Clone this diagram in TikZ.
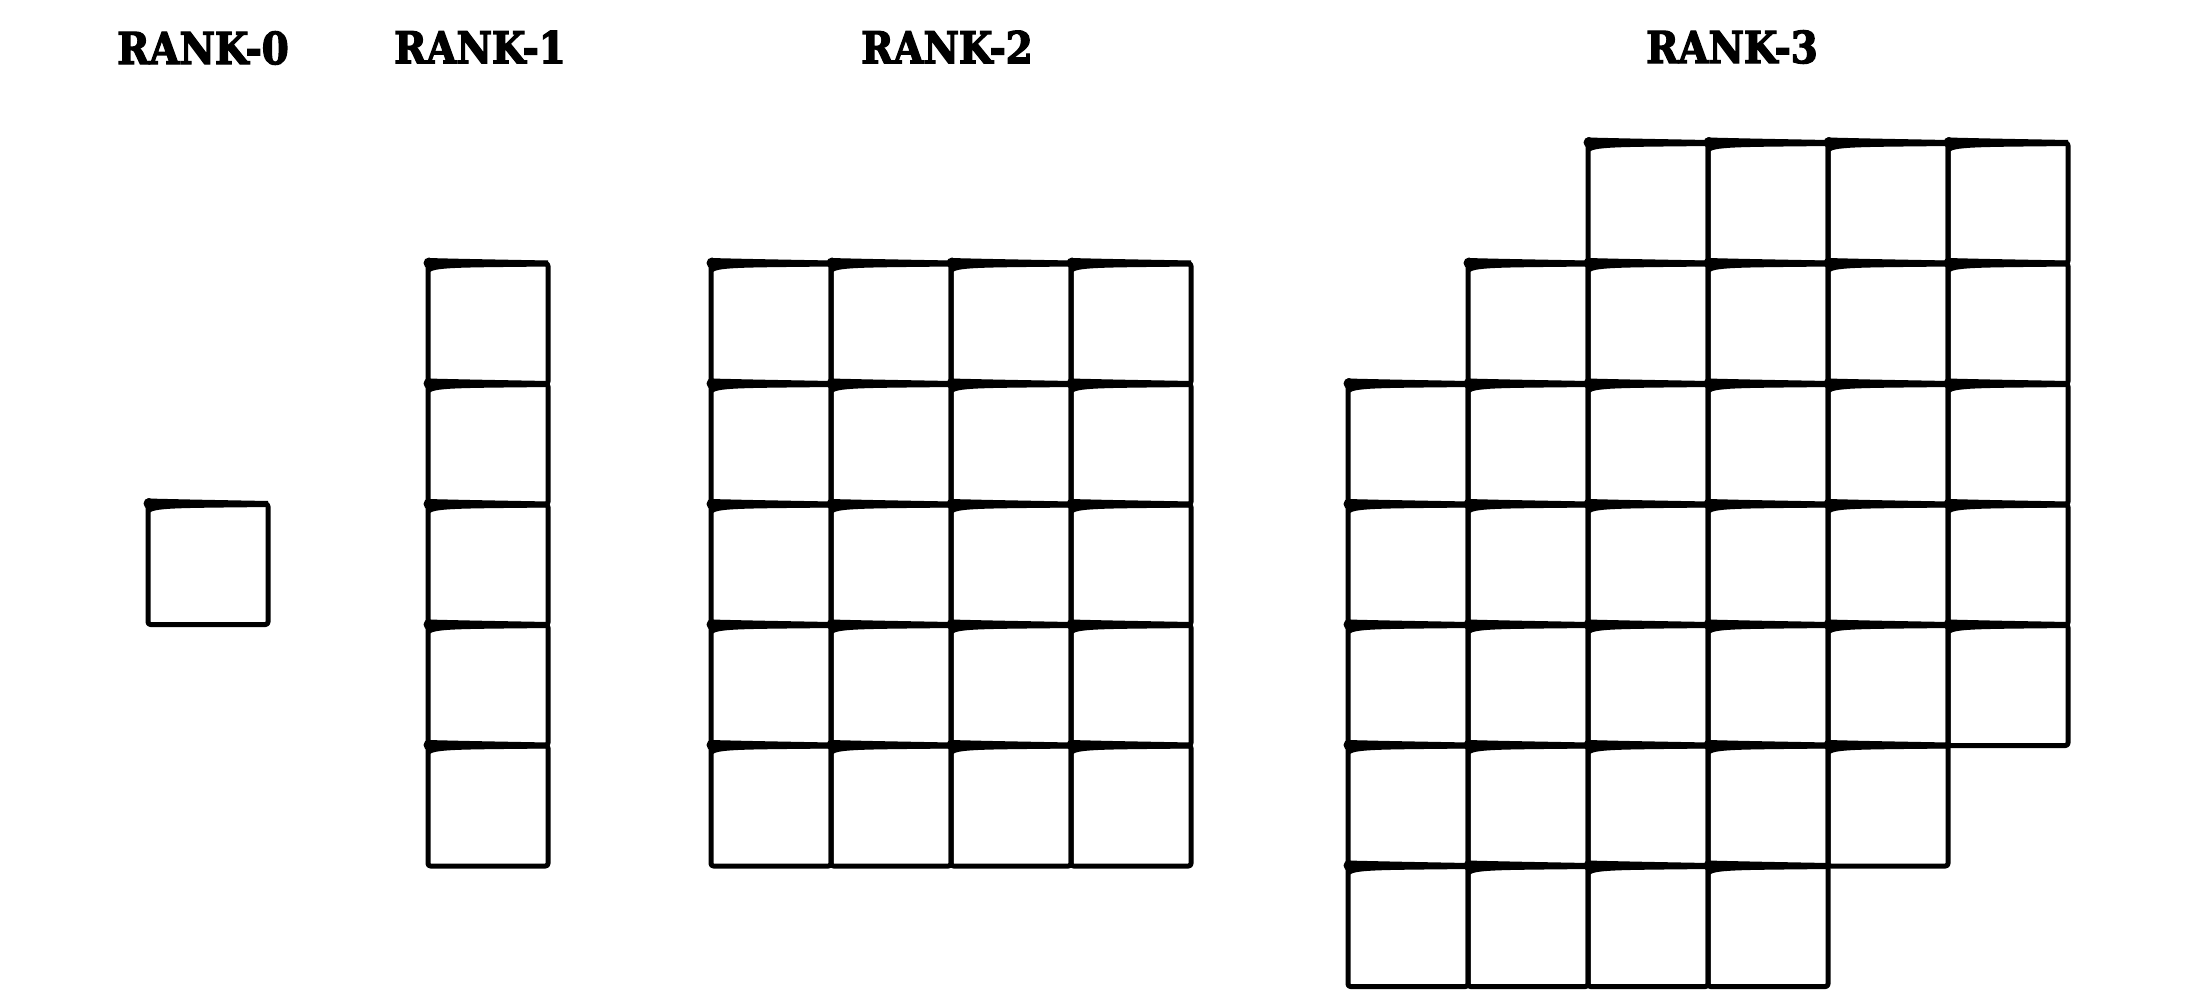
\documentclass[tikz,border=0pt]{standalone}
\usepackage{fontspec}
\newfontfamily\titlefont{DejaVu Serif}[FakeStretch=0.88,FakeBold=3]
\tikzset{
  cellline/.style={draw=black,line width=5pt,line join=round,rounded corners=2.5pt},
  ranktitle/.style={font=\titlefont\bfseries\fontsize{44}{48}\selectfont,inner sep=0pt,anchor=center}
}
\newcommand\tcell[2]{%
  \draw[cellline] (#1,#2) rectangle ++(120,120.5);
  \fill (#1+1,#2-0.5) circle (5.5);
  \fill (#1-1,#2-5.5) .. controls (#1+40,#2-4.5) .. (#1+120,#2-3) -- (#1+120,#2+3) .. controls (#1+40,#2+4) and (#1+8,#2+3.5) .. (#1+2,#2+8.5) -- cycle;
}
\begin{document}
\begin{tikzpicture}[x=1pt,y=-1pt]
\useasboundingbox[fill=white] (0,0) rectangle (2200,1000);
\node[ranktitle] (t0) at (203,48) {RANK-0};
\node[ranktitle] (t1) at (480,47) {RANK-1};
\node[ranktitle] (t2) at (947,47) {RANK-2};
\node[ranktitle] (t3) at (1732,47) {RANK-3};
% rank 0
\tcell{148}{504}
% rank 1
\foreach \r in {0,...,4}{\tcell{428}{263.5+120.5*\r}}
% rank 2
\foreach \c in {0,...,3}{\foreach \r in {0,...,4}{\tcell{711+120*\c}{263.5+120.5*\r}}}
% rank 3
\foreach \c/\ra/\rb in {0/2/6,1/1/6,2/0/6,3/0/6,4/0/5,5/0/4}{
  \foreach \r in {\ra,...,\rb}{\tcell{1348+120*\c}{143+120.5*\r}}}
\end{tikzpicture}
\end{document}
